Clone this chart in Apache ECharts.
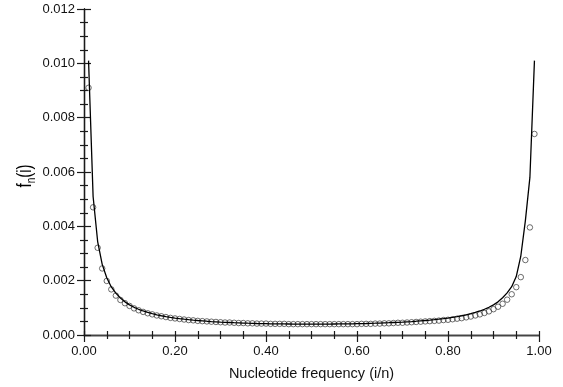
<!DOCTYPE html>
<html>
<head>
<meta charset="utf-8">
<script src="https://cdn.jsdelivr.net/npm/echarts@6/dist/echarts.min.js"></script>
<style>
html,body{margin:0;padding:0;background:#fff;}
#chart{width:563px;height:387px;}
</style>
</head>
<body>
<div id="chart"></div>
<script>
// Nucleotide frequency i/n (n = 100)
var freq = [0.01,0.02,0.03,0.04,0.05,0.06,0.07,0.08,0.09,0.10,
  0.11,0.12,0.13,0.14,0.15,0.16,0.17,0.18,0.19,0.20,
  0.21,0.22,0.23,0.24,0.25,0.26,0.27,0.28,0.29,0.30,
  0.31,0.32,0.33,0.34,0.35,0.36,0.37,0.38,0.39,0.40,
  0.41,0.42,0.43,0.44,0.45,0.46,0.47,0.48,0.49,0.50,
  0.51,0.52,0.53,0.54,0.55,0.56,0.57,0.58,0.59,0.60,
  0.61,0.62,0.63,0.64,0.65,0.66,0.67,0.68,0.69,0.70,
  0.71,0.72,0.73,0.74,0.75,0.76,0.77,0.78,0.79,0.80,
  0.81,0.82,0.83,0.84,0.85,0.86,0.87,0.88,0.89,0.90,
  0.91,0.92,0.93,0.94,0.95,0.96,0.97,0.98,0.99];

// Expected (solid curve)
var expected = [0.0101,0.0051,0.00344,0.0026,0.00211,0.00177,0.00154,0.00136,0.00122,0.00111,
  0.00102,0.000947,0.000884,0.00083,0.000784,0.000744,0.000709,0.000678,0.00065,0.000625,
  0.000603,0.000583,0.000565,0.000548,0.000533,0.00052,0.000507,0.000496,0.000486,0.000476,
  0.000468,0.00046,0.000452,0.000446,0.00044,0.000434,0.000429,0.000424,0.00042,0.000417,
  0.000413,0.00041,0.000408,0.000406,0.000404,0.000402,0.000402,0.000401,0.0004,0.0004,
  0.0004,0.000401,0.000402,0.000402,0.000404,0.000406,0.000408,0.00041,0.000413,0.000417,
  0.00042,0.000424,0.000429,0.000434,0.00044,0.000446,0.000452,0.00046,0.000468,0.000476,
  0.000486,0.000496,0.000507,0.00052,0.000533,0.000548,0.000565,0.000583,0.000603,0.000625,
  0.00065,0.000678,0.000709,0.000744,0.000784,0.00083,0.000884,0.000947,0.00102,0.00111,
  0.00122,0.00137,0.00155,0.00178,0.00215,0.0029,0.0042,0.0058,0.0101];

// Observed (open circles)
var observed = [0.0091,0.0047,0.00321,0.00245,0.00199,0.00168,0.00145,0.00129,0.00117,0.00107,
  0.00098,0.00091,0.00085,0.0008,0.00076,0.00072,0.00069,0.00066,0.00063,0.00061,
  0.00059,0.00057,0.00055,0.00054,0.00052,0.00051,0.0005,0.00049,0.00048,0.00047,
  0.00046,0.00046,0.00045,0.00044,0.00044,0.00043,0.00043,0.00042,0.00042,0.00042,
  0.00041,0.00041,0.00041,0.00041,0.0004,0.0004,0.0004,0.0004,0.0004,0.0004,
  0.0004,0.0004,0.0004,0.0004,0.0004,0.0004,0.0004,0.0004,0.0004,0.0004,
  0.00041,0.00041,0.00041,0.00042,0.00042,0.00043,0.00043,0.00044,0.00045,0.00045,
  0.00046,0.00047,0.00048,0.00049,0.0005,0.00051,0.00052,0.00053,0.00055,0.00056,
  0.00058,0.0006,0.00062,0.00065,0.00068,0.00072,0.00076,0.00081,0.00087,0.00095,
  0.00104,0.00115,0.0013,0.0015,0.00176,0.00213,0.00276,0.00396,0.0074];

var xTitle = 'Nucleotide frequency (i/n)';

var linePts = freq.map(function(x, k){ return [x, expected[k]]; });
var obsPts = freq.map(function(x, k){ return [x, observed[k]]; });

var FONT = 'Liberation Sans, Arial, Helvetica, sans-serif';
var AX = '#1a1a1a';

var chart = echarts.init(document.getElementById('chart'), null, {renderer: 'canvas'});
chart.setOption({
  animation: false,
  backgroundColor: '#fff',
  grid: {left: 84, right: 24, top: 9, bottom: 52, containLabel: false},
  xAxis: [{
    type: 'value', position: 'bottom', min: 0, max: 1, interval: 0.2,
    axisLine: {show: true, lineStyle: {color: AX, width: 1.3}},
    axisTick: {show: true, inside: false, length: 7, lineStyle: {color: AX, width: 1.2}},
    minorTick: {show: true, splitNumber: 4, length: 4, lineStyle: {color: AX, width: 1.2}},
    splitLine: {show: false},
    axisLabel: {formatter: function(v){ return v.toFixed(2); }, fontFamily: FONT, fontSize: 13, color: '#111', margin: 10},
    name: xTitle, nameLocation: 'middle', nameGap: 31,
    nameTextStyle: {fontFamily: FONT, fontSize: 14.5, color: '#111'}
  }, {
    type: 'value', position: 'top', min: 0, max: 1, interval: 0.05,
    axisLine: {show: true, lineStyle: {color: '#444', width: 1.3}},
    axisTick: {show: true, inside: false, length: 4, lineStyle: {color: AX, width: 1.2}},
    splitLine: {show: false},
    axisLabel: {show: false}
  }],
  yAxis: [{
    type: 'value', position: 'left', min: 0, max: 0.012, interval: 0.002,
    axisLine: {show: true, lineStyle: {color: AX, width: 1.3}},
    axisTick: {show: true, inside: false, length: 7, lineStyle: {color: AX, width: 1.2}},
    minorTick: {show: true, splitNumber: 4, length: 4, lineStyle: {color: AX, width: 1.2}},
    splitLine: {show: false},
    axisLabel: {formatter: function(v){ return v.toFixed(3); }, fontFamily: FONT, fontSize: 13, color: '#111', margin: 9}
  }, {
    type: 'value', position: 'right', min: 0, max: 0.012, interval: 0.002,
    axisLine: {show: true, lineStyle: {color: AX, width: 1.3}},
    axisTick: {show: true, inside: false, length: 7, lineStyle: {color: AX, width: 1.2}},
    minorTick: {show: true, splitNumber: 4, length: 4, lineStyle: {color: AX, width: 1.2}},
    splitLine: {show: false},
    axisLabel: {show: false}
  }],
  series: [{
    type: 'scatter', xAxisIndex: 0, yAxisIndex: 0, data: obsPts,
    symbol: 'circle', symbolSize: 5.5,
    itemStyle: {color: 'rgba(255,255,255,0)', borderColor: '#333', borderWidth: 0.9},
    z: 2
  }, {
    type: 'line', xAxisIndex: 0, yAxisIndex: 0, data: linePts,
    showSymbol: false, symbol: 'none',
    lineStyle: {color: '#000', width: 1.3},
    z: 3
  }],
  graphic: [{
    type: 'text', x: 25, y: 176, rotation: Math.PI / 2, scaleY: 1.35,
    style: {
      text: '{a|f}{s|n}{a|(i)}',
      align: 'center', verticalAlign: 'middle',
      rich: {
        a: {fontFamily: FONT, fontSize: 15, color: '#111', lineHeight: 18},
        s: {fontFamily: FONT, fontSize: 10, color: '#111', lineHeight: 18, padding: [9, 0, 0, 0]}
      }
    }
  }]
});
</script>
</body>
</html>
